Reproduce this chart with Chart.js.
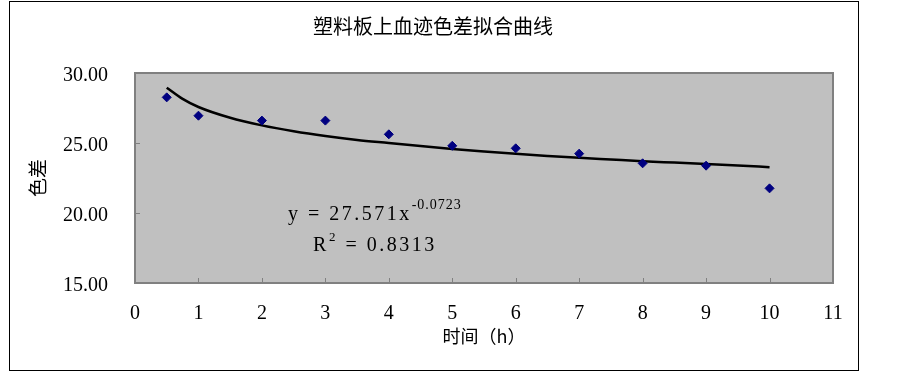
<!DOCTYPE html>
<html>
<head>
<meta charset="utf-8">
<script src="https://cdn.jsdelivr.net/npm/chart.js@4.4.0/dist/chart.umd.min.js"></script>
<style>
body { margin: 0; background: #fff; }
</style>
</head>
<body>
<canvas id="myChart" width="903" height="374"></canvas>
<script>
// 测量时间 (h)
var timeData = [0.5, 1, 2, 3, 4, 5, 6, 7, 8, 9, 10];
// 色差 测量值
var colorDiff = [28.26, 26.95, 26.60, 26.60, 25.62, 24.80, 24.62, 24.24, 23.55, 23.38, 21.76];
// 拟合曲线
var fitX = [0.5, 0.75, 1, 1.5, 2, 2.5, 3, 3.5, 4, 4.5, 5, 5.5, 6, 6.5, 7, 7.5, 8, 8.5, 9, 9.5, 10];
var fitY = [28.95, 28.15, 27.57, 26.80, 26.26, 25.84, 25.50, 25.22, 25.00, 24.78, 24.58, 24.40, 24.23, 24.08, 23.94, 23.82, 23.70, 23.60, 23.50, 23.40, 23.27];

var chartTitle = "塑料板上血迹色差拟合曲线";
var xTitle = "时间（h）";
var yTitle = "色差";
var eqMain = "y = 27.571x";
var eqPow = "-0.0723";
var r2Value = " = 0.8313";

var serif = "'Liberation Serif', 'DejaVu Serif', serif";
var cjk = "'Noto Sans CJK SC', sans-serif";

var chart; // 全局图表

// 背景、边框、标题、公式
var decorPlugin = {
    id: 'decor',
    beforeDraw: function (c) {
        var ctx = c.ctx, a = c.chartArea;
        ctx.save();
        ctx.fillStyle = '#fff';
        ctx.fillRect(0, 0, c.width, c.height);
        ctx.strokeStyle = '#000';
        ctx.lineWidth = 1;
        ctx.strokeRect(9.5, 1.5, 849, 369);
        ctx.fillStyle = '#c0c0c0';
        ctx.fillRect(a.left, a.top, a.right - a.left, a.bottom - a.top);
        ctx.fillStyle = '#000';
        ctx.font = "20px " + cjk;
        ctx.textAlign = 'center';
        ctx.textBaseline = 'middle';
        ctx.fillText(chartTitle, 433, 26);
        ctx.restore();
    },
    beforeDatasetsDraw: function (c) {
        var ctx = c.ctx, a = c.chartArea;
        var xs = c.scales.x, ys = c.scales.y;
        ctx.save();
        ctx.strokeStyle = '#808080';
        ctx.lineWidth = 2;
        ctx.strokeRect(a.left, a.top, a.right - a.left, a.bottom - a.top);
        ctx.lineWidth = 1;
        ctx.beginPath();
        xs.ticks.forEach(function (t) {
            var px = Math.round(xs.getPixelForValue(t.value)) + 0.5;
            ctx.moveTo(px, a.bottom);
            ctx.lineTo(px, a.bottom - 5);
        });
        ys.ticks.forEach(function (t) {
            var py = Math.round(ys.getPixelForValue(t.value)) + 0.5;
            ctx.moveTo(a.left, py);
            ctx.lineTo(a.left + 5, py);
        });
        ctx.stroke();

        // 拟合公式
        ctx.fillStyle = '#000';
        ctx.textBaseline = 'alphabetic';
        ctx.textAlign = 'left';
        if ('letterSpacing' in ctx) ctx.letterSpacing = '2.5px';
        var cx = xs.getPixelForValue(3.78);
        var y1 = ys.getPixelForValue(20.14) + 9;
        var y2 = ys.getPixelForValue(17.93) + 9;
        ctx.font = "20px " + serif;
        var w1 = ctx.measureText(eqMain).width;
        if ('letterSpacing' in ctx) ctx.letterSpacing = '1px';
        ctx.font = "14px " + serif;
        var w2 = ctx.measureText(eqPow).width;
        var x0 = cx - (w1 + w2) / 2;
        ctx.fillText(eqPow, x0 + w1, y1 - 11);
        if ('letterSpacing' in ctx) ctx.letterSpacing = '2.5px';
        ctx.font = "20px " + serif;
        ctx.fillText(eqMain, x0, y1);

        var wr = ctx.measureText("R").width;
        var wv = ctx.measureText(r2Value).width;
        ctx.font = "13px " + serif;
        var ws = ctx.measureText("2").width;
        var xr = cx - (wr + ws + wv) / 2;
        ctx.fillText("2", xr + wr, y2 - 10);
        ctx.font = "20px " + serif;
        ctx.fillText("R", xr, y2);
        ctx.fillText(r2Value, xr + wr + ws, y2);
        ctx.restore();
    }
};

var scatterPoints = timeData.map(function (t, i) { return { x: t, y: colorDiff[i] }; });
var fitPoints = fitX.map(function (t, i) { return { x: t, y: fitY[i] }; });

chart = new Chart("myChart", {
    type: "scatter",
    data: {
        datasets: [
            {
                label: '拟合曲线',
                data: fitPoints,
                showLine: true,
                borderColor: '#000',
                borderWidth: 2.5,
                pointRadius: 0,
                cubicInterpolationMode: 'monotone',
                fill: false,
                order: 2
            },
            {
                label: '色差',
                data: scatterPoints,
                pointStyle: 'rectRot',
                pointRadius: 4.5,
                backgroundColor: '#000080',
                borderColor: '#000080',
                borderWidth: 1,
                order: 1
            }
        ]
    },
    options: {
        responsive: false,
        animation: false,
        layout: { padding: { left: 0, right: 70, top: 73, bottom: 0 } },
        plugins: {
            legend: { display: false },
            title: { display: false },
            tooltip: { enabled: false }
        },
        scales: {
            x: {
                type: 'linear',
                min: 0,
                max: 11,
                grid: { display: false, drawTicks: false },
                border: { display: false },
                ticks: {
                    stepSize: 1,
                    padding: 19,
                    color: '#000',
                    font: { family: serif, size: 20 },
                    maxRotation: 0
                },
                title: {
                    display: true,
                    text: xTitle,
                    color: '#000',
                    font: { family: cjk, size: 18 },
                    padding: { top: 0, bottom: 27 }
                },
                afterFit: function (s) { s.height = 91; }
            },
            y: {
                min: 15,
                max: 30,
                grid: { display: false, drawTicks: false },
                border: { display: false },
                ticks: {
                    stepSize: 5,
                    padding: 27,
                    labelOffset: 3,
                    color: '#000',
                    font: { family: serif, size: 20 },
                    callback: function (v) { return v.toFixed(2); }
                },
                title: {
                    display: true,
                    text: yTitle,
                    color: '#000',
                    font: { family: cjk, size: 19 },
                    padding: { top: 26, bottom: 0 }
                },
                afterFit: function (s) { s.width = 135; }
            }
        }
    },
    plugins: [decorPlugin]
});
</script>
</body>
</html>
